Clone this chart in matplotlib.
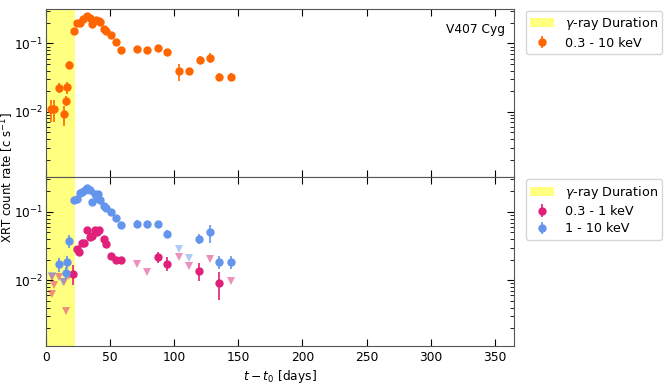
import numpy as np
import matplotlib
matplotlib.use("Agg")
import matplotlib.pyplot as plt
from matplotlib.patches import Patch

# ---------------- data ----------------
gamma_start, gamma_end = 0, 22.5

# 0.3 - 10 keV (top panel)
t_tot = [3.9, 6.2, 10.1, 14.0, 15.8, 16.8, 18.2, 22.0, 24.6, 26.7, 29.0, 32.4, 34.2, 36.3,
         39.1, 41.5, 42.5, 45.1, 47.2, 50.6, 54.7, 58.3, 71.0, 78.8, 87.4, 94.6, 104.0,
         111.2, 119.8, 128.1, 135.3, 144.4]
r_tot = [0.0111, 0.0111, 0.0223, 0.0092, 0.0145, 0.0228, 0.049, 0.154, 0.201, 0.201, 0.227,
         0.255, 0.239, 0.192, 0.223, 0.214, 0.204, 0.164, 0.150, 0.131, 0.104, 0.0788,
         0.0826, 0.081, 0.0863, 0.0755, 0.0396, 0.039, 0.0575, 0.0622, 0.0324, 0.0324]
e_tot = [0.004, 0.004, 0.0037, 0.003, 0.0025, 0.0045, 0.0066, 0.009, 0.01, 0.01, 0.011,
         0.012, 0.012, 0.01, 0.011, 0.011, 0.01, 0.009, 0.008, 0.007, 0.006, 0.005,
         0.006, 0.006, 0.007, 0.006, 0.011, 0.005, 0.007, 0.011, 0.0045, 0.0045]

# 1 - 10 keV (bottom panel, detections)
t_hard = [10.1, 15.8, 16.8, 18.2, 22.0, 24.3, 26.4, 28.5, 30.6, 32.4, 34.2, 36.3, 38.3, 39.9,
          40.7, 42.0, 45.1, 47.2, 50.6, 54.7, 58.3, 71.0, 79.1, 87.7, 94.7, 119.6, 127.8,
          135.3, 144.4]
r_hard = [0.0172, 0.0129, 0.0188, 0.038, 0.148, 0.156, 0.19, 0.197, 0.21, 0.22, 0.206, 0.141,
          0.181, 0.161, 0.181, 0.151, 0.122, 0.113, 0.101, 0.0818, 0.0641, 0.0664, 0.0655,
          0.0655, 0.0475, 0.0406, 0.0501, 0.0188, 0.0188]
e_hard = [0.004, 0.0025, 0.004, 0.008, 0.008, 0.008, 0.01, 0.01, 0.011, 0.011, 0.011, 0.008,
          0.01, 0.009, 0.01, 0.008, 0.007, 0.006, 0.006, 0.005, 0.004, 0.009, 0.008,
          0.007, 0.006, 0.007, 0.015, 0.004, 0.004]
# 1 - 10 keV upper limits
t_hard_ul = [4.9, 13.5, 103.7, 111.2]
r_hard_ul = [0.0114, 0.0094, 0.0284, 0.0213]

# 0.3 - 1 keV (bottom panel, detections)
t_soft = [21.5, 24.3, 26.2, 28.2, 30.1, 32.4, 34.2, 36.3, 38.1, 39.9, 41.5, 45.1, 47.2, 50.6,
          54.7, 58.3, 87.7, 94.7, 119.6, 135.3]
r_soft = [0.0125, 0.0285, 0.026, 0.0356, 0.0352, 0.0543, 0.0434, 0.0444, 0.0553, 0.0513,
          0.0543, 0.0406, 0.0336, 0.023, 0.0195, 0.0199, 0.0218, 0.0176, 0.0138, 0.0091]
e_soft = [0.004, 0.002, 0.002, 0.0025, 0.0025, 0.004, 0.003, 0.003, 0.004, 0.004, 0.004,
          0.003, 0.0025, 0.002, 0.0015, 0.0015, 0.004, 0.004, 0.004, 0.004]
# 0.3 - 1 keV upper limits
t_soft_ul = [4.9, 6.2, 4.4, 10.1, 14.0, 15.6, 18.2, 71.0, 79.1, 103.7, 111.2, 127.8, 144.4]
r_soft_ul = [0.011, 0.0084, 0.0063, 0.011, 0.0094, 0.0036, 0.0117, 0.0175, 0.0132, 0.0218,
             0.016, 0.0204, 0.0097]

c_tot = '#ff6600'
c_soft = '#e0207a'
c_hard = '#6495ed'
c_gamma = '#ffff80'

plt.rcParams['font.size'] = 8.8
plt.rcParams['font.family'] = ['DejaVu Sans']

fig, (ax1, ax2) = plt.subplots(2, 1, sharex=True, sharey=True, figsize=(6.65, 3.86), dpi=100)
fig.subplots_adjust(left=0.069, right=0.773, top=0.977, bottom=0.104, hspace=0)

for ax in (ax1, ax2):
    ax.axvspan(gamma_start, gamma_end, color=c_gamma, lw=0, zorder=0)
    ax.set_yscale('log')
    ax.tick_params(which='both', direction='in', top=True, right=True)
    ax.tick_params(which='major', length=5)
    ax.tick_params(which='minor', length=3)
    ax.tick_params(axis='y', pad=2)
    for s in ax.spines.values():
        s.set_color('#555555')

ax1.errorbar(t_tot, r_tot, yerr=e_tot, fmt='o', color=c_tot, ms=5, elinewidth=1.2, capsize=0,
             label='0.3 - 10 keV', zorder=3)

ax2.errorbar(t_soft, r_soft, yerr=e_soft, fmt='o', color=c_soft, ms=5, elinewidth=1.2, capsize=0,
             label='0.3 - 1 keV', zorder=3)
ax2.errorbar(t_hard, r_hard, yerr=e_hard, fmt='o', color=c_hard, ms=5, elinewidth=1.2, capsize=0,
             label='1 - 10 keV', zorder=3)
ax2.plot(t_soft_ul, r_soft_ul, 'v', color=c_soft, alpha=0.5, ms=6, mew=0, zorder=2)
ax2.plot(t_hard_ul, r_hard_ul, 'v', color=c_hard, alpha=0.5, ms=6, mew=0, zorder=2)

ax1.set_xlim(0, 365)
ax1.set_ylim(1.1e-3, 0.32)
ax1.set_xticks([0, 50, 100, 150, 200, 250, 300, 350])
ax2.set_xlabel(r'$t - t_0$ [days]', labelpad=3)
fig.text(0.0115, 0.54, r'XRT count rate [c s$^{-1}$]', rotation=90, va='center', ha='center',
         fontsize=8.5)

ax1.text(0.98, 0.88, 'V407 Cyg', transform=ax1.transAxes, ha='right', va='center')

gpatch = Patch(facecolor=c_gamma, edgecolor='none', label=r'$\gamma$-ray Duration')
leg_kw = dict(loc='upper left', bbox_to_anchor=(1.025, 0.99), borderaxespad=0.0,
              fontsize=9.2, labelspacing=0.35, borderpad=0.35, handletextpad=0.8,
              handlelength=1.9)
h1, l1 = ax1.get_legend_handles_labels()
ax1.legend([gpatch] + h1, [r'$\gamma$-ray Duration'] + l1, **leg_kw)
h2, l2 = ax2.get_legend_handles_labels()
ax2.legend([gpatch] + h2, [r'$\gamma$-ray Duration'] + l2, **leg_kw)

fig.savefig('out.png', dpi=100)
